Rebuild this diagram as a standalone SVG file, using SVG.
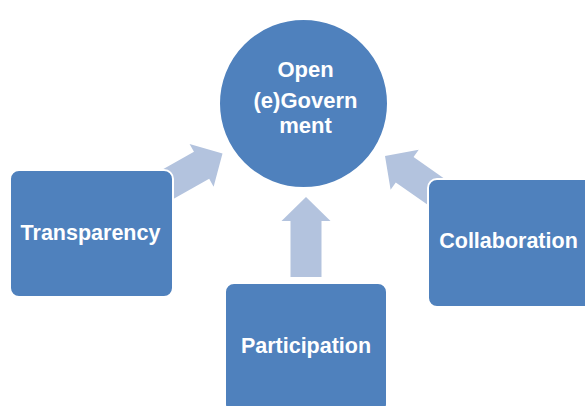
<svg xmlns="http://www.w3.org/2000/svg" width="585" height="406" viewBox="0 0 585 406">
  <style>
    .node { fill: #4F81BD; stroke: #FFFFFF; stroke-width: 2; }
    .arrow { fill: #B3C3DE; stroke: none; }
    .label { fill: #FFFFFF; font-family: "Liberation Sans", Arial, sans-serif; font-weight: bold; font-size: 21.5px; text-anchor: middle; }
    .hub { font-size: 22px; }
  </style>
  <defs>
    <!-- block arrow pointing up, tip at the origin -->
    <path id="blockArrow" d="M0,0 L24.5,24 L15.5,24 L15.5,80 L-15.5,80 L-15.5,24 L-24.5,24 Z"/>
  </defs>
  <rect width="585" height="406" fill="#FFFFFF"/>

  <g id="connectors">
    <use href="#blockArrow" class="arrow" transform="translate(222.5,153.5) rotate(60.6)"/>
    <use href="#blockArrow" class="arrow" transform="translate(385,156) rotate(-55)"/>
    <use href="#blockArrow" class="arrow" transform="translate(306,197)"/>
  </g>

  <g id="open-egovernment">
    <circle class="node" cx="303.5" cy="103.5" r="84.5"/>
    <text class="label hub" x="305.5" y="77">Open</text>
    <text class="label hub" x="305.5" y="108">(e)Govern</text>
    <text class="label hub" x="305.5" y="133">ment</text>
  </g>

  <g id="transparency">
    <rect class="node" x="10" y="170" width="163" height="127" rx="9"/>
    <text class="label" x="90.5" y="240">Transparency</text>
  </g>

  <g id="collaboration">
    <rect class="node" x="428" y="179" width="165" height="128" rx="9"/>
    <text class="label" x="508.5" y="248">Collaboration</text>
  </g>

  <g id="participation">
    <rect class="node" x="225" y="283" width="162" height="130" rx="9"/>
    <text class="label" x="306" y="352.5">Participation</text>
  </g>
</svg>
